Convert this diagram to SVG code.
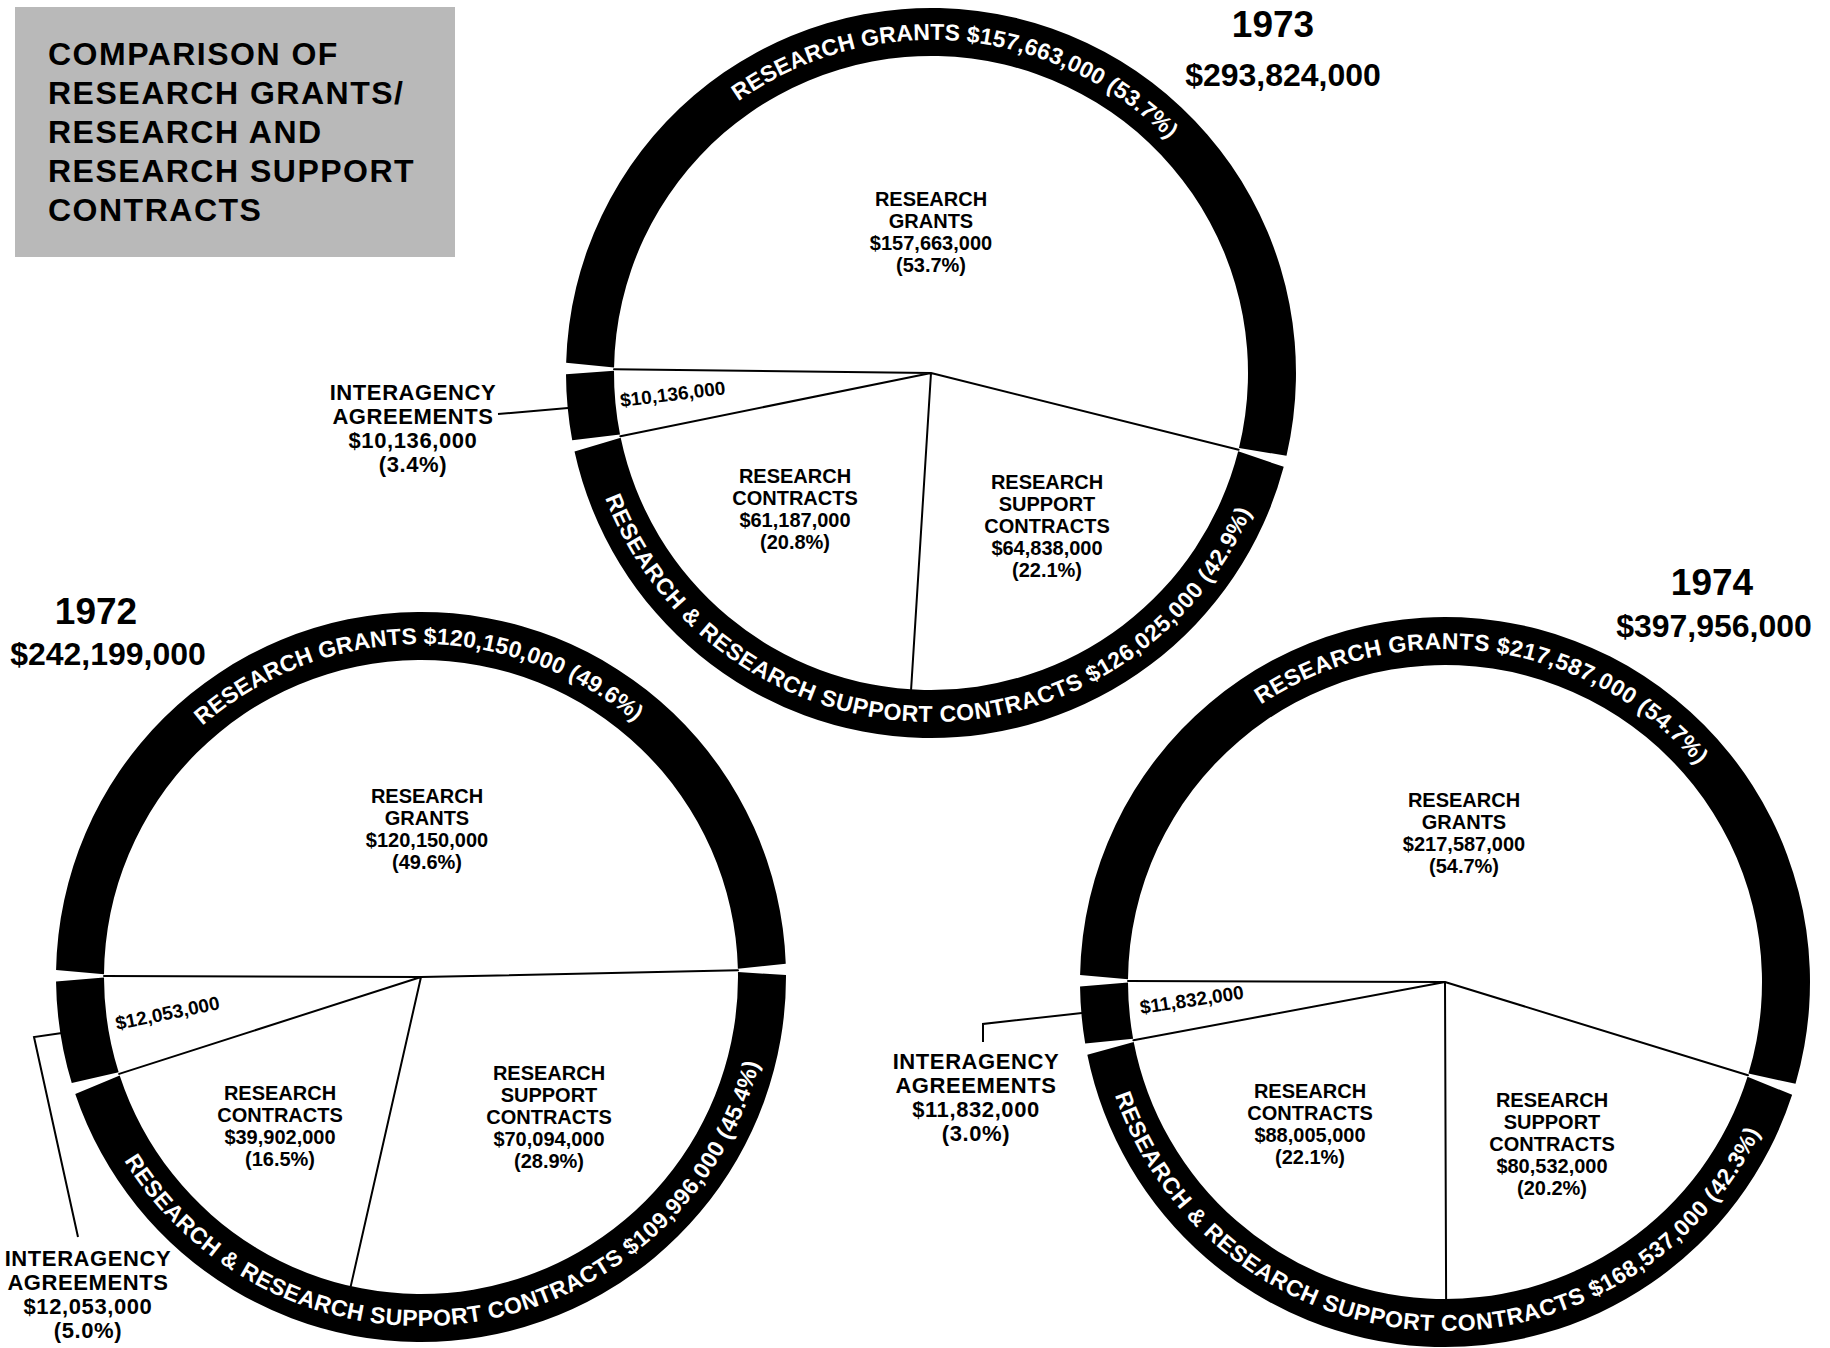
<svg xmlns="http://www.w3.org/2000/svg" width="1830" height="1348" viewBox="0 0 1830 1348">
  <style>
    text { font-family: "Liberation Sans", Arial, sans-serif; font-weight: bold; fill: #000; }
    .ring { fill: #000; }
    .div { stroke: #000; stroke-width: 2; fill: none; stroke-linecap: round; stroke-linejoin: round; }
    .lead { stroke: #000; stroke-width: 2; fill: none; }
    .lbl { font-size: 20px; text-anchor: middle; }
    .ia { font-size: 22px; text-anchor: middle; letter-spacing: 0.6px; }
    .amt { font-size: 19px; }
    .arc { font-size: 23px; fill: #fff; text-anchor: middle; }
    .year { font-size: 37px; text-anchor: middle; }
    .total { font-size: 32px; text-anchor: middle; }
    .title { font-size: 32px; letter-spacing: 1.5px; }
  </style>
  <defs>
    <!-- baselines for the curved ring captions -->
    <path id="t73top" d="M629.40,231.73 A333,333 0 0 1 1252.80,287.38"/>
    <path id="t73bot" d="M582.77,396.13 A349,349 0 0 0 1277.96,410.69"/>
    <path id="t72top" d="M107.10,865.84 A333,333 0 0 1 732.91,860.38"/>
    <path id="t72bot" d="M81.93,1059.66 A349,349 0 0 0 769.28,954.48"/>
    <path id="t74top" d="M1150.70,826.18 A333,333 0 0 1 1770.60,912.20"/>
    <path id="t74bot" d="M1096.15,992.35 A349,349 0 0 0 1790.35,1032.38"/>
  </defs>

  <rect width="1830" height="1348" fill="#fff"/>

  <!-- heading panel -->
  <g id="title">
    <rect x="15" y="7" width="440" height="250" fill="#b9b9b9"/>
    <text class="title"><tspan x="48" y="65">COMPARISON OF</tspan><tspan x="48" y="104">RESEARCH GRANTS/</tspan><tspan x="48" y="143">RESEARCH AND</tspan><tspan x="48" y="182">RESEARCH SUPPORT</tspan><tspan x="48" y="221">CONTRACTS</tspan></text>
  </g>

  <!-- 1973 -->
  <g id="pie-1973">
    <g id="y1973-head">
      <text class="year" x="1273" y="37">1973</text>
      <text class="total" x="1283" y="86">$293,824,000</text>
    </g>
    <g id="y1973-grants">
      <path class="ring" d="M566.14,362.81 A365,365 0 1 1 1286.50,455.73 L1238.98,448.08 A317,317 0 1 0 614.05,367.47 Z"/>
      <text class="arc"><textPath href="#t73top" startOffset="50%" textLength="470" lengthAdjust="spacing">RESEARCH GRANTS $157,663,000 (53.7%)</textPath></text>
      <text class="lbl"><tspan x="931" y="206">RESEARCH</tspan><tspan x="931" y="228">GRANTS</tspan><tspan x="931" y="250">$157,663,000</tspan><tspan x="931" y="272">(53.7%)</tspan></text>
    </g>
    <g id="y1973-rr">
      <path class="ring" d="M1283.73,466.85 A365,365 0 0 1 574.52,451.38 L620.70,437.83 A317,317 0 0 0 1238.18,451.30 Z"/>
      <text class="arc"><textPath href="#t73bot" startOffset="50%" textLength="826" lengthAdjust="spacing">RESEARCH &amp; RESEARCH SUPPORT CONTRACTS $126,025,000 (42.9%)</textPath></text>
    </g>
    <g id="y1973-contracts">
      <text class="lbl"><tspan x="795" y="483">RESEARCH</tspan><tspan x="795" y="505">CONTRACTS</tspan><tspan x="795" y="527">$61,187,000</tspan><tspan x="795" y="549">(20.8%)</tspan></text>
    </g>
    <g id="y1973-support">
      <text class="lbl"><tspan x="1047" y="489">RESEARCH</tspan><tspan x="1047" y="511">SUPPORT</tspan><tspan x="1047" y="533">CONTRACTS</tspan><tspan x="1047" y="555">$64,838,000</tspan><tspan x="1047" y="577">(22.1%)</tspan></text>
    </g>
    <g id="y1973-interagency">
      <path class="ring" d="M572.23,440.14 A365,365 0 0 1 566.00,374.27 L614.01,370.79 A317,317 0 0 0 620.04,434.57 Z"/>
      <text class="amt" transform="translate(621,407) rotate(-7)">$10,136,000</text>
      <text class="ia"><tspan x="413" y="400">INTERAGENCY</tspan><tspan x="413" y="424">AGREEMENTS</tspan><tspan x="413" y="448">$10,136,000</tspan><tspan x="413" y="472">(3.4%)</tspan></text>
    </g>
    <path class="div" d="M614.02,369.13 L931,373 L1238.59,449.69 M931,373 L911.10,689.38 M931,373 L620.37,436.20"/>
  </g>

  <!-- 1972 -->
  <g id="pie-1972">
    <g id="y1972-head">
      <text class="year" x="96" y="624">1972</text>
      <text class="total" x="108" y="665">$242,199,000</text>
    </g>
    <g id="y1972-grants">
      <path class="ring" d="M56.07,969.99 A365,365 0 0 1 785.76,963.63 L737.89,968.70 A317,317 0 0 0 104.01,974.23 Z"/>
      <text class="arc"><textPath href="#t72top" startOffset="50%" textLength="471" lengthAdjust="spacing">RESEARCH GRANTS $120,150,000 (49.6%)</textPath></text>
      <text class="lbl"><tspan x="427" y="803">RESEARCH</tspan><tspan x="427" y="825">GRANTS</tspan><tspan x="427" y="847">$120,150,000</tspan><tspan x="427" y="869">(49.6%)</tspan></text>
    </g>
    <g id="y1972-rr">
      <path class="ring" d="M785.99,975.09 A365,365 0 0 1 75.27,1094.02 L119.69,1075.49 A317,317 0 0 0 737.96,972.02 Z"/>
      <text class="arc"><textPath href="#t72bot" startOffset="50%" textLength="816" lengthAdjust="spacing">RESEARCH &amp; RESEARCH SUPPORT CONTRACTS $109,996,000 (45.4%)</textPath></text>
    </g>
    <g id="y1972-contracts">
      <text class="lbl"><tspan x="280" y="1100">RESEARCH</tspan><tspan x="280" y="1122">CONTRACTS</tspan><tspan x="280" y="1144">$39,902,000</tspan><tspan x="280" y="1166">(16.5%)</tspan></text>
    </g>
    <g id="y1972-support">
      <text class="lbl"><tspan x="549" y="1080">RESEARCH</tspan><tspan x="549" y="1102">SUPPORT</tspan><tspan x="549" y="1124">CONTRACTS</tspan><tspan x="549" y="1146">$70,094,000</tspan><tspan x="549" y="1168">(28.9%)</tspan></text>
    </g>
    <g id="y1972-interagency">
      <path class="ring" d="M71.76,1083.11 A365,365 0 0 1 56.03,981.46 L104.00,977.55 A317,317 0 0 0 118.67,1072.33 Z"/>
      <text class="amt" transform="translate(117,1030) rotate(-11.5)">$12,053,000</text>
      <text class="ia"><tspan x="88" y="1266">INTERAGENCY</tspan><tspan x="88" y="1290">AGREEMENTS</tspan><tspan x="88" y="1314">$12,053,000</tspan><tspan x="88" y="1338">(5.0%)</tspan></text>
    </g>
    <path class="div" d="M104.00,975.89 L421,977 L737.93,970.36 M421,977 L350.77,1286.12 M421,977 L119.17,1073.91"/>
  </g>

  <!-- 1974 -->
  <g id="pie-1974">
    <g id="y1974-head">
      <text class="year" x="1712" y="595">1974</text>
      <text class="total" x="1714" y="637">$397,956,000</text>
    </g>
    <g id="y1974-grants">
      <path class="ring" d="M1080.07,974.99 A365,365 0 1 1 1795.51,1083.83 L1748.47,1073.62 A317,317 0 1 0 1128.01,979.23 Z"/>
      <text class="arc"><textPath href="#t74top" startOffset="50%" textLength="482" lengthAdjust="spacing">RESEARCH GRANTS $217,587,000 (54.7%)</textPath></text>
      <text class="lbl"><tspan x="1464" y="807">RESEARCH</tspan><tspan x="1464" y="829">GRANTS</tspan><tspan x="1464" y="851">$217,587,000</tspan><tspan x="1464" y="873">(54.7%)</tspan></text>
    </g>
    <g id="y1974-rr">
      <path class="ring" d="M1792.14,1094.79 A365,365 0 0 1 1087.33,1054.77 L1133.72,1041.94 A317,317 0 0 0 1747.49,1076.80 Z"/>
      <text class="arc"><textPath href="#t74bot" startOffset="50%" textLength="826" lengthAdjust="spacing">RESEARCH &amp; RESEARCH SUPPORT CONTRACTS $168,537,000 (42.3%)</textPath></text>
    </g>
    <g id="y1974-contracts">
      <text class="lbl"><tspan x="1310" y="1098">RESEARCH</tspan><tspan x="1310" y="1120">CONTRACTS</tspan><tspan x="1310" y="1142">$88,005,000</tspan><tspan x="1310" y="1164">(22.1%)</tspan></text>
    </g>
    <g id="y1974-support">
      <text class="lbl"><tspan x="1552" y="1107">RESEARCH</tspan><tspan x="1552" y="1129">SUPPORT</tspan><tspan x="1552" y="1151">CONTRACTS</tspan><tspan x="1552" y="1173">$80,532,000</tspan><tspan x="1552" y="1195">(20.2%)</tspan></text>
    </g>
    <g id="y1974-interagency">
      <path class="ring" d="M1085.22,1043.50 A365,365 0 0 1 1080.03,986.46 L1128.00,982.55 A317,317 0 0 0 1133.11,1038.68 Z"/>
      <text class="amt" transform="translate(1141,1014) rotate(-8.5)">$11,832,000</text>
      <text class="ia"><tspan x="976" y="1069">INTERAGENCY</tspan><tspan x="976" y="1093">AGREEMENTS</tspan><tspan x="976" y="1117">$11,832,000</tspan><tspan x="976" y="1141">(3.0%)</tspan></text>
    </g>
    <path class="div" d="M1128.00,980.89 L1445,982 L1747.99,1075.21 M1445,982 L1446.11,1299.0 M1445,982 L1133.41,1040.31"/>
  </g>

  <!-- leader lines from the interagency labels to their ring segments -->
  <g id="connectors">
    <path class="lead" d="M498,414 L568,408"/>
    <path class="lead" d="M62,1033 L34,1037 L78,1237"/>
    <path class="lead" d="M1082,1013 L983,1024 L983,1042"/>
  </g>
</svg>
